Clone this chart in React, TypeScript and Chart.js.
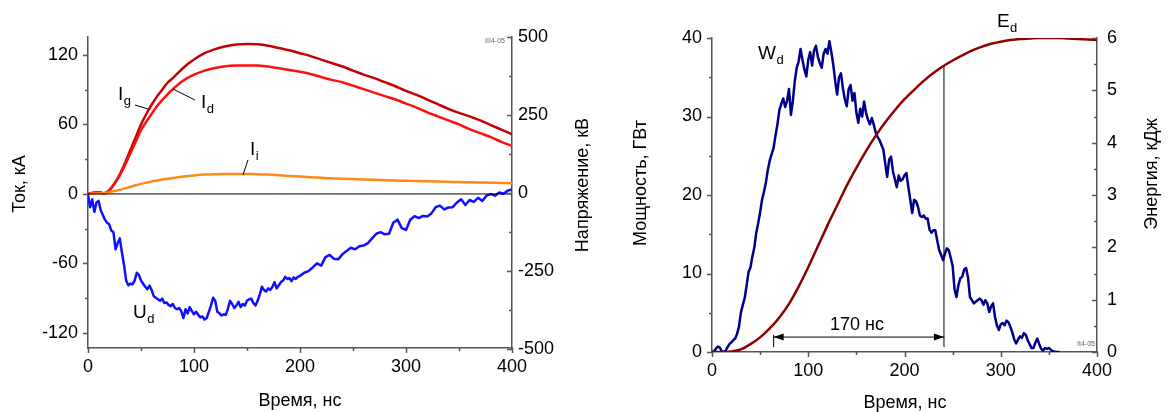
import React, { useEffect, useRef } from "react";
import { Chart, registerables } from "chart.js";

Chart.register(...registerables);

const FONT = "'Liberation Sans', Arial, Helvetica, sans-serif";
const AXIS_COLOR = "#555555";

const range = (a: number, b: number, step: number) => {
  const out: number[] = [];
  for (let v = a; v <= b + 1e-9; v += step) out.push(v);
  return out;
};

// ---------------- Left chart: currents & voltage ----------------
const currentTime = [0, 5, 10, 15, 20, 25, 30, 35, 40, 45, 50, 55, 60, 65, 70, 75, 80, 90, 100, 110, 120, 130, 140, 150, 160, 170, 180, 190, 200, 210, 220, 230, 240, 250, 260, 270, 280, 290, 300, 310, 320, 330, 340, 350, 360, 370, 380, 390, 400];
const igValues = [0, 1, 1.5, 0.5, 3, 9, 17, 27, 38, 49, 60, 69, 77, 84, 90, 96, 100, 109, 116, 121.5, 125, 127.5, 129, 129.5, 129.2, 128, 126, 124, 121.5, 119, 116, 113, 110, 106.5, 103, 100, 96.5, 93, 89, 85.5, 81.5, 77.5, 73.5, 70, 67, 63.5, 59.5, 55.5, 51.5];
const idValues = [0, 1, 1.5, 0.5, 3, 9, 16, 25, 35, 45, 55, 62.5, 69, 75.7, 81, 86, 90.5, 98, 103, 106.5, 108.8, 110.2, 110.8, 111, 110.8, 110, 108.5, 107, 105.5, 103.5, 101, 98.5, 96.5, 93.5, 90.5, 87.5, 84.5, 81.5, 78, 74.5, 70.5, 67, 63.5, 60, 56, 52.5, 49, 45, 41.5];
const iiValues = [0, 0.3, 0.5, 0.5, 1.5, 2.5, 3.5, 4.8, 6.2, 7.5, 8.7, 9.8, 10.8, 11.6, 12.4, 13.1, 13.8, 15, 16, 16.7, 17, 17.2, 17.3, 17.2, 17.1, 16.7, 16.2, 15.6, 15, 14.4, 13.9, 13.5, 13.1, 12.8, 12.5, 12.2, 11.9, 11.6, 11.3, 11.1, 10.9, 10.7, 10.5, 10.3, 10.1, 9.9, 9.7, 9.5, 9.2];

const udTime = [...range(0, 200, 2), ...range(204, 400, 4)];
const udValues = [
  -5, -45, -20, -60, -30, -25, -55, -70, -85, -95,
  -100, -120, -125, -180, -160, -145, -190, -230, -280, -295,
  -290, -292, -280, -255, -262, -280, -290, -300, -308, -296,
  -310, -330, -335, -340, -345, -338, -352, -350, -358, -362,
  -355, -368, -372, -368, -378, -400, -372, -385, -365, -378,
  -388, -380, -390, -398, -395, -405, -400, -380, -360, -335,
  -345, -380, -385, -392, -388, -390, -370, -345, -355, -368,
  -360, -348, -365, -355, -360, -345, -340, -338, -352, -360,
  -345, -325, -300, -310, -315, -305, -310, -300, -285, -305,
  -295, -285, -280, -268, -275, -272, -282, -270, -275, -268,
  -265,
  -255, -250, -238, -225, -232, -205, -198, -210, -212, -196,
  -185, -175, -180, -170, -168, -160, -145, -130, -125, -132,
  -130, -95, -85, -112, -118, -85, -74, -80, -73, -75,
  -65, -45, -40, -52, -46, -45, -30, -20, -38, -22,
  -28, -15, -25, -8, -3, -8, 2, -2, 8, 12,
];

const zeroLineTime = [0, 400];
const zeroLineValues = [0, 0];

const timeTicks = [0, 100, 200, 300, 400];
const timeMinorTicks = [50, 150, 250, 350];
const currentTicks = [-120, -60, 0, 60, 120];
const currentMinorTicks = [-90, -30, 30, 90];
const voltageTicks = [-500, -250, 0, 250, 500];
const voltageMinorTicks = [-375, -125, 125, 375];

// ---------------- Right chart: power & energy ----------------
const powerTime = range(0, 360, 2);
const wdValues = [
  0, 0.1, 0.4, 0.7, 0.6, 0.1, 0, 0.1, 0.6, 1.0,
  1.2, 1.5, 1.7, 2.3, 3.2, 5.0, 6.0, 6.9, 8.5, 10.2,
  10.8, 12.2, 13.3, 15.2, 16.4, 17.8, 19.4, 20.4, 21.6, 23.2,
  24.4, 25.2, 26.0, 27.6, 29.0, 30.8, 31.6, 32.3, 31.2, 32.0,
  33.5, 30.2, 32.0, 34.5, 36.2, 37.0, 38.6, 37.2, 36.0, 35.1,
  37.2, 38.2, 36.5, 38.4, 39.0, 37.6, 36.8, 36.2, 38.0, 38.6,
  38.0, 39.6, 38.2, 36.6, 34.5, 32.8, 35.0, 35.5, 33.6, 32.2,
  31.3, 33.5, 34.0, 32.0, 33.0, 30.5, 29.2, 31.0, 30.0, 31.9,
  30.5, 29.6, 29.0, 29.8, 29.0, 28.0, 27.4, 27.0, 26.4, 25.8,
  24.0, 22.3, 24.5, 24.9, 23.0, 22.0, 21.0, 22.5, 21.8, 22.0,
  22.5, 22.8, 21.0, 19.4, 17.7, 19.4, 19.2, 18.5, 17.4, 17.2,
  17.4, 17.0, 17.0, 15.6, 15.2, 15.5, 15.5, 14.2, 13.0, 12.4,
  11.7, 12.5, 13.2, 13.0, 12.0, 11.0, 8.0, 7.0, 8.5, 9.4,
  9.6, 10.5, 10.7, 9.5, 7.0, 6.6, 6.2, 6.4, 6.6, 6.8,
  6.6, 6.0, 6.6, 6.2, 5.1, 5.8, 6.2, 4.5, 3.4, 2.8,
  3.5, 3.7, 3.4, 4.0, 3.8, 3.2, 2.5, 1.6, 1.1, 1.6,
  2.0, 1.8, 2.4, 2.2, 1.5, 1.0, 0.5, 0.5, 1.2, 1.7,
  1.0, 0.4, 0.2, 0.5, 0.4, 0.5, 0.3, 0.1, 0.05, 0,
  0,
];

const energyTime = range(0, 400, 10);
const edValues = [0, 0, 0.01, 0.05, 0.15, 0.28, 0.45, 0.66, 0.92, 1.25, 1.62, 2.02, 2.42, 2.8, 3.18, 3.52, 3.84, 4.13, 4.39, 4.62, 4.83, 5.01, 5.18, 5.33, 5.46, 5.57, 5.67, 5.76, 5.83, 5.89, 5.93, 5.96, 5.98, 5.99, 6.0, 6.0, 6.0, 5.99, 5.98, 5.97, 5.96];

const spanTimes = [64, 241]; // ns, start / end of the 170 ns interval
const spanArrowLevel = 1.9; // GW
const spanTickRange = [0.65, 2.15]; // GW
const spanEnergyRange = [0.1, 5.47]; // kJ

const powerTicks = [0, 10, 20, 30, 40];
const powerMinorTicks = [5, 15, 25, 35];
const energyTicks = [0, 1, 2, 3, 4, 5, 6];
const energyMinorTicks = [0.5, 1.5, 2.5, 3.5, 4.5, 5.5];

const pairs = (xs: number[], ys: number[]) => xs.map((x, i) => ({ x, y: ys[i] }));

// ---------------- decoration plugin ----------------
const decorPlugin = {
  id: "decor",
  afterDraw(chart: any, _args: any, opts: any) {
    const ctx: CanvasRenderingContext2D = chart.ctx;
    ctx.save();
    // tick marks
    ctx.strokeStyle = AXIS_COLOR;
    ctx.lineWidth = 1.5;
    for (const t of opts.ticks || []) {
      const s = chart.scales[t.axis];
      for (const v of t.values) {
        const p = Math.round(s.getPixelForValue(v)) + 0.5;
        ctx.beginPath();
        if (s.isHorizontal()) {
          ctx.moveTo(p, s.top);
          ctx.lineTo(p, s.top + t.dir * t.len);
        } else {
          const x0 = s.position === "left" ? s.right : s.left;
          ctx.moveTo(x0, p);
          ctx.lineTo(x0 + t.dir * t.len, p);
        }
        ctx.stroke();
      }
    }
    ctx.fillStyle = "#000";
    ctx.strokeStyle = "#000";
    // axis titles
    for (const t of opts.titles || []) {
      ctx.save();
      ctx.translate(t.x, t.y);
      ctx.rotate(((t.rot || 0) * Math.PI) / 180);
      ctx.font = `18px ${FONT}`;
      ctx.textAlign = "center";
      ctx.textBaseline = "middle";
      ctx.fillText(t.text, 0, 0);
      ctx.restore();
    }
    // leader lines
    ctx.lineWidth = 1;
    for (const l of opts.leaders || []) {
      const sx = chart.scales[l.xAxis || "x"];
      const sy = chart.scales[l.yAxis || "y"];
      ctx.beginPath();
      ctx.moveTo(sx.getPixelForValue(l.x1), sy.getPixelForValue(l.y1));
      ctx.lineTo(sx.getPixelForValue(l.x2), sy.getPixelForValue(l.y2));
      ctx.stroke();
    }
    // series labels with subscripts
    for (const lb of opts.labels || []) {
      const sx = chart.scales[lb.xAxis || "x"];
      const sy = chart.scales[lb.yAxis || "y"];
      const px = sx.getPixelForValue(lb.x);
      const py = sy.getPixelForValue(lb.y);
      ctx.textAlign = "left";
      ctx.textBaseline = "alphabetic";
      ctx.font = `19px ${FONT}`;
      ctx.fillText(lb.main, px, py);
      const w = ctx.measureText(lb.main).width;
      ctx.font = `13px ${FONT}`;
      ctx.fillText(lb.sub, px + w + 0.5, py + 5);
    }
    // free texts in data coordinates
    for (const tx of opts.texts || []) {
      const sx = chart.scales[tx.xAxis || "x"];
      const sy = chart.scales[tx.yAxis || "y"];
      ctx.font = `18px ${FONT}`;
      ctx.textAlign = "center";
      ctx.textBaseline = "middle";
      ctx.fillText(tx.text, sx.getPixelForValue(tx.x), sy.getPixelForValue(tx.y));
    }
    // arrow heads
    for (const a of opts.arrows || []) {
      const sx = chart.scales[a.xAxis || "x"];
      const sy = chart.scales[a.yAxis || "y"];
      const px = sx.getPixelForValue(a.x);
      const py = sy.getPixelForValue(a.y);
      ctx.beginPath();
      ctx.moveTo(px, py);
      ctx.lineTo(px - a.dir * 10, py - 3.5);
      ctx.lineTo(px - a.dir * 10, py + 3.5);
      ctx.closePath();
      ctx.fill();
    }
    // small stamps
    for (const s of opts.stamps || []) {
      ctx.font = `7px ${FONT}`;
      ctx.fillStyle = "#666";
      ctx.textAlign = "center";
      ctx.textBaseline = "middle";
      ctx.fillText(s.text, s.x, s.y);
    }
    ctx.restore();
  },
};

const tickFont = { family: FONT, size: 18 };

function axis(position: string, min: number, max: number, ticks: number[], size: number, padding: number, extra: any = {}) {
  return {
    type: "linear",
    position,
    min,
    max,
    grid: { display: false, drawTicks: false },
    border: { display: true, color: AXIS_COLOR, width: 1.5 },
    ticks: { color: "#000", font: tickFont, padding, maxRotation: 0, autoSkip: false },
    afterBuildTicks: (s: any) => {
      s.ticks = ticks.map((v) => ({ value: v }));
    },
    afterFit: (s: any) => {
      if (position === "bottom") s.height = size;
      else s.width = size;
    },
    ...extra,
  };
}

function lineDs(data: any[], color: string, width: number, yAxisID: string, smooth: boolean) {
  return {
    data,
    borderColor: color,
    borderWidth: width,
    yAxisID,
    pointRadius: 0,
    fill: false,
    tension: smooth ? 0.4 : 0,
    cubicInterpolationMode: smooth ? "monotone" : "default",
    borderJoinStyle: "round",
    borderCapStyle: "round",
  };
}

function makeLeftConfig(): any {
  return {
    type: "line",
    data: {
      datasets: [
        lineDs(pairs(zeroLineTime, zeroLineValues), "#000000", 1, "y", false),
        lineDs(pairs(udTime, udValues), "#1010ff", 2.5, "y1", false),
        lineDs(pairs(currentTime, iiValues), "#ff8a1a", 2.5, "y", true),
        lineDs(pairs(currentTime, idValues), "#ff1010", 2.5, "y", true),
        lineDs(pairs(currentTime, igValues), "#c40000", 2.5, "y", true),
      ],
    },
    options: {
      responsive: false,
      animation: false,
      events: [],
      layout: { padding: { top: 37, left: 0, right: 0, bottom: 0 } },
      plugins: {
        legend: { display: false },
        tooltip: { enabled: false },
        decor: {
          ticks: [
            { axis: "x", values: timeTicks, len: 5, dir: 1 },
            { axis: "x", values: timeMinorTicks, len: 3, dir: 1 },
            { axis: "y", values: currentTicks, len: 5, dir: -1 },
            { axis: "y", values: currentMinorTicks, len: 3, dir: -1 },
            { axis: "y1", values: voltageTicks, len: 5, dir: -1 },
            { axis: "y1", values: voltageMinorTicks, len: 3, dir: -1 },
          ],
          titles: [
            { text: "Ток, кА", x: 20, y: 184, rot: -90 },
            { text: "Напряжение, кВ", x: 583, y: 185, rot: -90 },
            { text: "Время, нс", x: 300, y: 401, rot: 0 },
          ],
          leaders: [
            { x1: 44.3, y1: 76.8, x2: 56.6, y2: 73.3 },
            { x1: 100.9, y1: 81.1, x2: 80.2, y2: 90.6 },
            { x1: 150.9, y1: 29.3, x2: 146.2, y2: 16.4 },
          ],
          labels: [
            { main: "I", sub: "g", x: 28.3, y: 81.1 },
            { main: "I", sub: "d", x: 106.6, y: 74.2 },
            { main: "I", sub: "i", x: 152.8, y: 33.6 },
            { main: "U", sub: "d", x: 42.5, y: -107 },
          ],
          stamps: [{ text: "III4-05", x: 495, y: 41 }],
        },
      },
      scales: {
        x: axis("bottom", 0, 400, timeTicks, 64, 8),
        y: axis("left", -133, 135.5, currentTicks, 88, 10),
        y1: axis("right", -496, 500, voltageTicks, 88, 6),
      },
    },
    plugins: [decorPlugin],
  };
}

function makeRightConfig(): any {
  return {
    type: "line",
    data: {
      datasets: [
        lineDs(pairs([spanTimes[0], spanTimes[0]], spanTickRange), "#000000", 1, "y", false),
        lineDs(pairs(spanTimes, [spanArrowLevel, spanArrowLevel]), "#000000", 1, "y", false),
        lineDs(pairs([spanTimes[1], spanTimes[1]], spanEnergyRange), "#000000", 1, "y1", false),
        lineDs(pairs(energyTime, edValues), "#8c0000", 2.5, "y1", true),
        lineDs(pairs(powerTime, wdValues), "#00008c", 2.5, "y", false),
      ],
    },
    options: {
      responsive: false,
      animation: false,
      events: [],
      layout: { padding: { top: 38, left: 0, right: 0, bottom: 0 } },
      plugins: {
        legend: { display: false },
        tooltip: { enabled: false },
        decor: {
          ticks: [
            { axis: "x", values: timeTicks, len: 5, dir: 1 },
            { axis: "x", values: timeMinorTicks, len: 3, dir: 1 },
            { axis: "y", values: powerTicks, len: 5, dir: -1 },
            { axis: "y", values: powerMinorTicks, len: 3, dir: -1 },
            { axis: "y1", values: energyTicks, len: 5, dir: -1 },
            { axis: "y1", values: energyMinorTicks, len: 3, dir: -1 },
          ],
          titles: [
            { text: "Мощность, ГВт", x: 41, y: 183, rot: -90 },
            { text: "Энергия, кДж", x: 552, y: 174, rot: -90 },
            { text: "Время, нс", x: 305, y: 403, rot: 0 },
          ],
          labels: [
            { main: "W", sub: "d", x: 47.8, y: 37.3 },
            { main: "E", sub: "d", x: 296, y: 41.4 },
          ],
          texts: [{ text: "170 нс", x: 150.6, y: 3.4 }],
          arrows: [
            { x: spanTimes[0], y: spanArrowLevel, dir: -1 },
            { x: spanTimes[1], y: spanArrowLevel, dir: 1 },
          ],
          stamps: [{ text: "It4-05", x: 486, y: 344 }],
        },
      },
      scales: {
        x: axis("bottom", 0, 400, timeTicks, 60, 8),
        y: axis("left", 0, 40, powerTicks, 112, 10),
        y1: axis("right", 0, 6, energyTicks, 74, 10),
      },
    },
    plugins: [decorPlugin],
  };
}

function ChartCanvas({ make, left, width }: { make: () => any; left: number; width: number }) {
  const ref = useRef<HTMLCanvasElement | null>(null);
  useEffect(() => {
    if (!ref.current) return;
    const chart = new Chart(ref.current, make());
    return () => chart.destroy();
  }, [make]);
  return (
    <canvas
      ref={ref}
      width={width}
      height={412}
      style={{ position: "absolute", left, top: 0, width, height: 412, display: "block" }}
    />
  );
}

export default function App() {
  return (
    <div style={{ position: "absolute", left: 0, top: 0, width: 1171, height: 412, background: "#fff", overflow: "hidden" }}>
      <ChartCanvas make={makeLeftConfig} left={0} width={600} />
      <ChartCanvas make={makeRightConfig} left={600} width={571} />
    </div>
  );
}
